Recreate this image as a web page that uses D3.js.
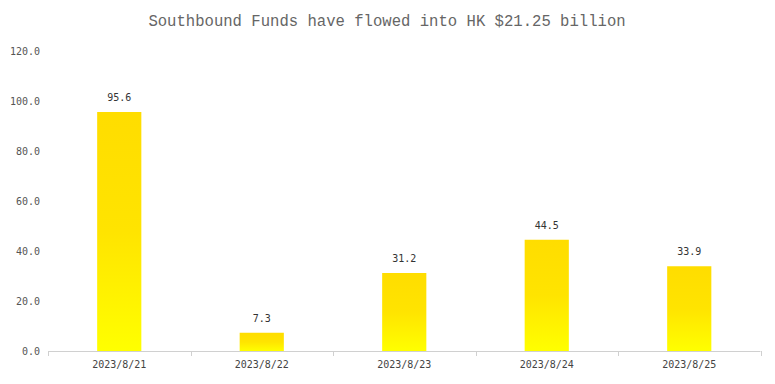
<!DOCTYPE html>
<html>
<head>
<meta charset="utf-8">
<script src="https://cdn.jsdelivr.net/npm/d3@7"></script>
<style>
  body { margin: 0; background: #fff; }
  text { font-family: "DejaVu Sans Mono", monospace; }
</style>
</head>
<body>
<svg id="chart" width="775" height="384"></svg>
<script>
// chart data
const categories = ['2023/8/21', '2023/8/22', '2023/8/23', '2023/8/24', '2023/8/25'];
const values = [95.6, 7.3, 31.2, 44.5, 33.9];
const yTicks = [0, 20, 40, 60, 80, 100, 120];
const titleText = 'Southbound Funds have flowed into HK $21.25 billion';

const dims = { width: 775, height: 384, left: 48, right: 760.5, top: 51, bottom: 351 };

const svg = d3.select('#chart');

// gradient for bars: gold on top, yellow at the bottom
const grad = svg.append('defs').append('linearGradient')
  .attr('id', 'barGrad')
  .attr('x1', 0).attr('y1', 0).attr('x2', 0).attr('y2', 1);
grad.append('stop').attr('offset', '0%').attr('stop-color', '#ffdd00');
grad.append('stop').attr('offset', '50%').attr('stop-color', '#ffe400');
grad.append('stop').attr('offset', '100%').attr('stop-color', '#ffff00');

const xScale = d3.scaleBand()
  .domain(categories)
  .range([dims.left, dims.right])
  .paddingInner(0).paddingOuter(0);

const yScale = d3.scaleLinear()
  .domain([0, 120])
  .range([dims.bottom, dims.top]);

// title
svg.append('text')
  .attr('x', 387)
  .attr('y', 26)
  .attr('text-anchor', 'middle')
  .style('font-family', '"Liberation Mono", monospace')
  .style('font-size', '15.6px')
  .attr('fill', '#666')
  .text(titleText);

// y axis labels only, no line
const yAxis = d3.axisLeft(yScale)
  .tickValues(yTicks)
  .tickSize(0)
  .tickPadding(8)
  .tickFormat(d3.format('.1f'));

svg.append('g')
  .attr('class', 'axis axis-y')
  .attr('transform', 'translate(' + dims.left + ',0)')
  .call(yAxis)
  .call(g => g.select('.domain').remove())
  .selectAll('text')
  .style('font-size', '10px')
  .attr('fill', '#555');

// x axis with ticks at band boundaries
const xAxis = d3.axisBottom(xScale)
  .tickSize(0)
  .tickPadding(10);

const gx = svg.append('g')
  .attr('class', 'axis axis-x')
  .attr('transform', 'translate(0,' + dims.bottom + ')')
  .call(xAxis);
gx.select('.domain').attr('stroke', '#d0d0d0').attr('d', 'M' + dims.left + ',0.5H' + dims.right);
gx.selectAll('text').style('font-size', '10px').attr('fill', '#444');

const bounds = categories.map(c => xScale(c)).concat([dims.right]);
gx.selectAll('.boundary')
  .data(bounds)
  .enter()
  .append('line')
  .attr('class', 'boundary')
  .attr('x1', d => Math.round(d) + 0.5).attr('x2', d => Math.round(d) + 0.5)
  .attr('y1', 0).attr('y2', 5)
  .attr('stroke', '#d0d0d0');

// bars
const barW = xScale.bandwidth() * 0.31;
svg.append('g')
  .selectAll('.bar-line')
  .data(values)
  .enter()
  .append('rect')
  .attr('class', 'bar-line')
  .attr('fill', 'url(#barGrad)')
  .attr('x', (d, i) => xScale(categories[i]) + xScale.bandwidth() / 2 - barW / 2)
  .attr('y', d => yScale(d))
  .attr('width', barW)
  .attr('height', d => yScale(0) - yScale(d));

// value labels
svg.append('g')
  .selectAll('.val')
  .data(values)
  .enter()
  .append('text')
  .attr('class', 'val')
  .attr('x', (d, i) => xScale(categories[i]) + xScale.bandwidth() / 2)
  .attr('y', d => yScale(d) - 11)
  .attr('text-anchor', 'middle')
  .style('font-size', '10px')
  .attr('fill', '#333')
  .text(d => d.toFixed(1));
</script>
</body>
</html>
